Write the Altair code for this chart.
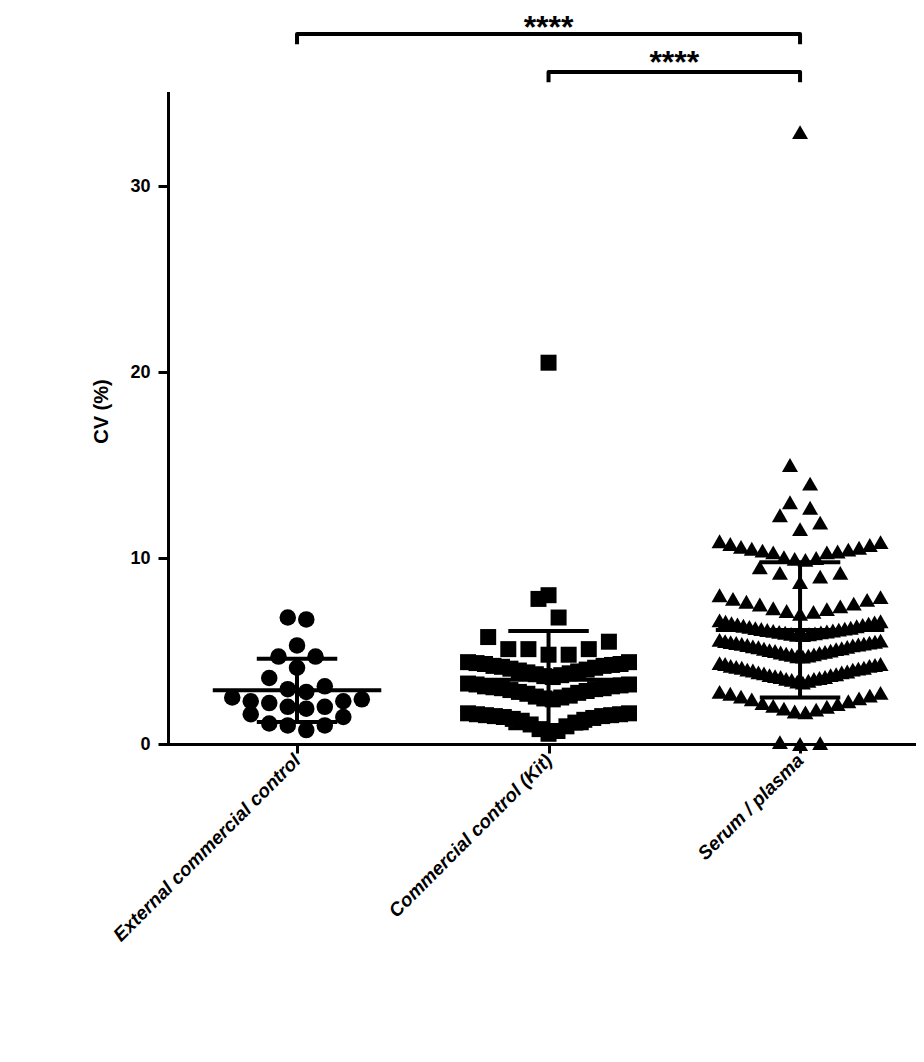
import json
import altair as alt
import pandas as pd

# ---------------- data ----------------
groups = ["External commercial control", "Commercial control (Kit)", "Serum / plasma"]
shapes = ["circle", "square", "triangle-up"]
sizes = [272, 256, 256]

external_cv = [6.8, 6.7, 5.3, 4.7, 4.7, 4.1, 3.55, 3.1, 2.8, 2.95, 2.4, 2.3,
               2.2, 2.3, 2.5, 2.0, 1.9, 2.0, 1.6, 1.45, 1.0, 0.75, 1.0, 1.1]

kit_cv = [0.55, 0.7, 0.8, 0.95, 1.05, 1.15, 1.25, 1.3, 1.35, 1.4, 1.45, 1.5, 1.5,
          1.55, 1.55, 1.6, 1.6, 1.65, 1.65,
          2.4, 2.45, 2.5, 2.55, 2.6, 2.7, 2.75, 2.8, 2.85, 2.9, 2.95, 3.0, 3.0,
          3.05, 3.1, 3.1, 3.15, 3.2, 3.2, 3.25,
          3.6, 3.65, 3.7, 3.75, 3.8, 3.85, 3.9, 3.95, 4.0, 4.05, 4.1, 4.15, 4.2,
          4.2, 4.25, 4.3, 4.3, 4.35, 4.4, 4.4,
          4.8, 4.8, 5.1, 5.1, 5.1, 5.5, 5.75, 6.8, 7.8, 8.0, 20.5]

serum_cv = [0.0, 0.05, 0.1,
            1.7, 1.75, 1.85, 1.9, 2.0, 2.05, 2.15, 2.2, 2.3, 2.4, 2.45, 2.55,
            2.6, 2.7, 2.75, 2.8,
            3.3, 3.35, 3.4, 3.45, 3.5, 3.5, 3.55, 3.6, 3.6, 3.65, 3.7, 3.7, 3.75,
            3.8, 3.85, 3.85, 3.9, 3.95, 4.0, 4.0, 4.05, 4.1, 4.1, 4.15, 4.2, 4.2,
            4.25, 4.3, 4.3, 4.35,
            4.7, 4.72, 4.75, 4.8, 4.82, 4.85, 4.9, 4.92, 4.95, 5.0, 5.02, 5.05,
            5.1, 5.12, 5.15, 5.2, 5.22, 5.25, 5.3, 5.32, 5.35, 5.38, 5.4, 5.43,
            5.45, 5.48, 5.5, 5.53, 5.56, 5.6,
            5.85, 5.87, 5.9, 5.92, 5.95, 5.98, 6.0, 6.03, 6.05, 6.08, 6.1, 6.13,
            6.15, 6.18, 6.2, 6.23, 6.25, 6.3, 6.33, 6.36, 6.4, 6.43, 6.47, 6.5,
            6.53, 6.57, 6.6, 6.65,
            7.0, 7.1, 7.15, 7.25, 7.3, 7.4, 7.5, 7.55, 7.65, 7.75, 7.8, 7.9, 8.0,
            8.7, 9.0, 9.2, 9.2, 9.5,
            9.9, 9.95, 10.0, 10.05, 10.3, 10.3, 10.35, 10.4, 10.45, 10.5, 10.55,
            10.6, 10.7, 10.75, 10.85, 10.9,
            11.55, 11.9, 12.3, 12.7, 13.0, 14.0, 15.0, 32.9]

series = [external_cv, kit_cv, serum_cv]

y_ticks = [0, 10, 20, 30]
y_title = "CV (%)"

# significance comparisons: (group position a, group position b, label)
comparisons = [(1, 3, "****"), (2, 3, "****")]

# ---------------- layout parameters ----------------
bracket_levels = [38.17, 36.13]
text_levels = [37.98, 36.08]
bracket_drop = 0.55
row_height = [0.89, 1.1, 1.1]
step = [0.0736, 0.08, 0.08]
half_width = [0.30, 0.32, 0.32]


def swarm(values, center, binh, sp_max, halfw):
    """Prism-like column scatter: rows of nearby values spread centre-out."""
    vals = sorted(values)
    out = []
    i = 0
    while i < len(vals):
        start = vals[i]
        row = []
        while i < len(vals) and vals[i] <= start + binh + 1e-9:
            row.append(vals[i])
            i += 1
        n = len(row)
        sp = sp_max if n <= 1 else min(sp_max, 2 * halfw / (n - 1))
        slots = [(k - (n - 1) / 2) * sp for k in range(n)]
        slots.sort(key=lambda s: (round(abs(s), 9), -s))
        for v, s in zip(row, slots):
            out.append((center + s, v))
    return out


rows = []
for gi, (name, vals) in enumerate(zip(groups, series)):
    for xx, v in swarm(vals, gi + 1, row_height[gi], step[gi], half_width[gi]):
        rows.append({"group": name, "pos": gi + 1, "x": xx, "cv": v})
points_df = pd.DataFrame(rows)

br_rows = []
txt_rows = []
for ci, (a, b, lab) in enumerate(comparisons):
    lvl = bracket_levels[ci]
    for o, (xx, yy) in enumerate([(a, lvl - bracket_drop), (a, lvl), (b, lvl), (b, lvl - bracket_drop)]):
        br_rows.append({"id": ci, "o": o, "x": xx, "y": yy})
    txt_rows.append({"x": (a + b) / 2, "y": text_levels[ci], "label": lab})
br_df = pd.DataFrame(br_rows)
txt_df = pd.DataFrame(txt_rows)

# ---------------- scales & axes ----------------
FONT = "Liberation Sans"
xscale = alt.Scale(domain=[0.487, 3.461], nice=False, zero=False)
yscale = alt.Scale(domain=[0, 35], nice=False, zero=True)

label_array = json.dumps([""] + groups)
xaxis = alt.Axis(title=None, values=[1, 2, 3],
                 labelExpr=f"{label_array}[datum.value]",
                 labelAngle=-45, labelAlign="right", labelBaseline="middle",
                 labelFont=FONT, labelFontSize=19, labelFontWeight="bold",
                 labelFontStyle="italic", labelColor="black", labelPadding=4,
                 labelLimit=1000, labelOverlap=False, labelFlush=False,
                 tickSize=9, tickWidth=3, tickColor="black",
                 domainColor="black", domainWidth=3, domainCap="square", grid=False)
yaxis = alt.Axis(title=y_title, values=y_ticks,
                 labelFont=FONT, labelFontSize=18, labelFontWeight="bold",
                 labelColor="black", labelPadding=8,
                 tickSize=10, tickWidth=3, tickColor="black",
                 domainColor="black", domainWidth=3, domainCap="square", grid=False,
                 titleFont=FONT, titleFontSize=20, titleFontWeight="bold",
                 titleColor="black", titleX=-61, titleY=318,
                 titleBaseline="alphabetic", titleAngle=270)


def X(f):
    return alt.X(f, type="quantitative", scale=xscale, axis=xaxis)


def Y(f):
    return alt.Y(f, type="quantitative", scale=yscale, axis=yaxis)


layers = []
for gi, name in enumerate(groups):
    layers.append(
        alt.Chart(points_df[points_df["group"] == name])
        .mark_point(shape=shapes[gi], size=sizes[gi], filled=True,
                    color="black", opacity=1, strokeWidth=0)
        .encode(x=X("x"), y=Y("cv"))
    )

stats = (alt.Chart(points_df)
         .transform_aggregate(m="mean(cv)", sd="stdev(cv)", groupby=["pos"])
         .transform_calculate(lo="datum.m - datum.sd", hi="datum.m + datum.sd",
                              xl="datum.pos - 0.335", xr="datum.pos + 0.335",
                              cl="datum.pos - 0.16", cr="datum.pos + 0.16"))

rule_kw = dict(color="black", strokeWidth=4)
mean_rule = stats.mark_rule(**rule_kw).encode(x=X("xl"), x2="xr", y=Y("m"))
sd_rule = stats.mark_rule(**rule_kw).encode(x=X("pos"), y=Y("lo"), y2="hi")
cap_hi = stats.mark_rule(**rule_kw).encode(x=X("cl"), x2="cr", y=Y("hi"))
cap_lo = stats.mark_rule(**rule_kw).encode(x=X("cl"), x2="cr", y=Y("lo"))

brackets = (alt.Chart(br_df)
            .mark_line(color="black", strokeWidth=4, strokeJoin="round", clip=False)
            .encode(x=X("x"), y=Y("y"), detail="id:N", order="o:Q"))

stars = (alt.Chart(txt_df)
         .mark_text(font=FONT, fontSize=32, fontWeight="bold", color="black",
                    baseline="alphabetic", align="center", clip=False)
         .encode(x=X("x"), y=Y("y"), text="label:N"))

chart = (alt.layer(*layers, mean_rule, sd_rule, cap_hi, cap_lo, brackets, stars)
         .properties(width=748, height=651,
                     autosize=alt.AutoSizeParams(type="none"),
                     padding={"left": 160, "top": 85, "right": 0, "bottom": 290},
                     background="white")
         .configure_view(stroke=None))

chart.save("out.html", embed_options={"renderer": "svg", "actions": False})
